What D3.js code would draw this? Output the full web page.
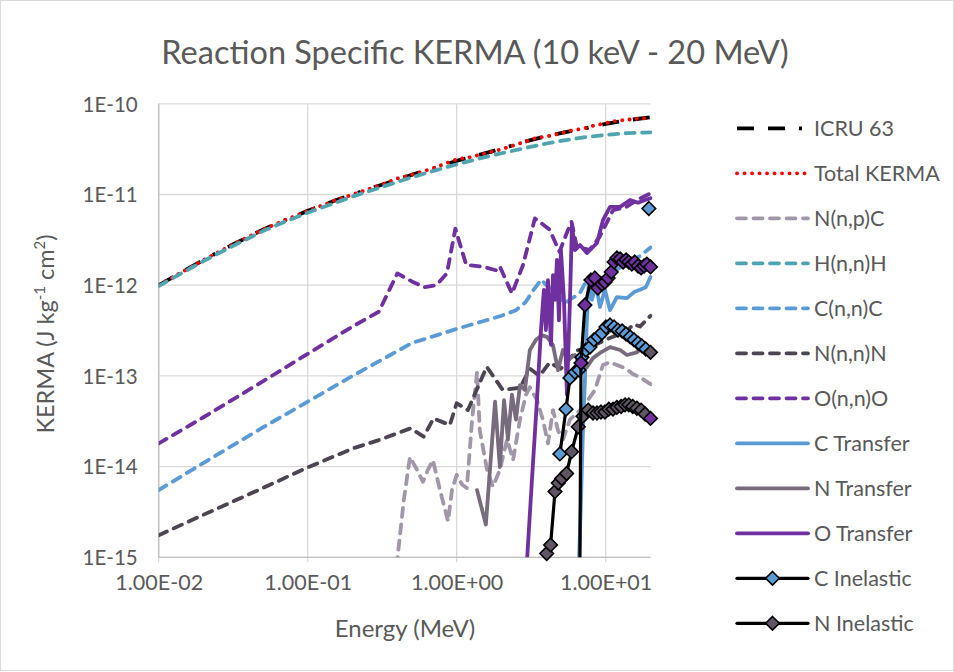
<!DOCTYPE html>
<html><head><meta charset="utf-8">
<script src="https://cdn.jsdelivr.net/npm/d3@7"></script>
<style>
body{margin:0;background:#fff}
text{font-family:Lato,'Open Sans',sans-serif;fill:#595959}
</style>
</head><body>
<svg id="chart" width="954" height="672"></svg>
<script>
// ---------- tick labels ----------
const xTickValues=[0.01,0.1,1,10];
const xTickLabels=["1.00E-02","1.00E-01","1.00E+00","1.00E+01"];
const yTickValues=[1e-15,1e-14,1e-13,1e-12,1e-11,1e-10];
const yTickLabels=["1E-15","1E-14","1E-13","1E-12","1E-11","1E-10"];
const legendNames=["ICRU 63","Total KERMA","N(n,p)C","H(n,n)H","C(n,n)C","N(n,n)N","O(n,n)O","C Transfer","N Transfer","O Transfer","C Inelastic","N Inelastic"];

// ---------- data: [energy MeV, KERMA] ----------
const icru63=[[0.01,1.0e-12],[0.02,1.9e-12],[0.03,2.7e-12],[0.05,4.1e-12],[0.07,5.2e-12],[0.1,6.6e-12],[0.15,8.5e-12],[0.2,1.0e-11],[0.3,1.25e-11],[0.5,1.65e-11],[0.7,1.95e-11],[1,2.35e-11],[1.5,2.8e-11],[2,3.2e-11],[3,3.9e-11],[4,4.4e-11],[5,4.75e-11],[7,5.3e-11],[10,6.0e-11],[14,6.6e-11],[20,7.1e-11]];
const totalKerma=[[0.01,1.0e-12],[0.02,1.9e-12],[0.03,2.7e-12],[0.05,4.1e-12],[0.07,5.2e-12],[0.1,6.6e-12],[0.15,8.5e-12],[0.2,1.0e-11],[0.3,1.25e-11],[0.4,1.5e-11],[0.5,1.65e-11],[0.7,1.95e-11],[1,2.45e-11],[1.2,2.55e-11],[1.5,2.8e-11],[2,3.15e-11],[3,3.9e-11],[3.4,4.2e-11],[4,4.35e-11],[5,4.75e-11],[6,5.1e-11],[7,5.3e-11],[8.5,5.8e-11],[10,6.1e-11],[11,6.4e-11],[12.5,6.5e-11],[14,6.8e-11],[15,6.6e-11],[17,7.0e-11],[18.5,6.9e-11],[20,7.3e-11]];
const nnpc=[[0.395,8e-16],[0.442,4.3e-15],[0.486,1.28e-14],[0.542,9.2e-15],[0.594,6.8e-15],[0.641,9.2e-15],[0.693,1.18e-14],[0.773,5.5e-15],[0.875,2.5e-15],[0.93,5.5e-15],[1.0,8.1e-15],[1.09,6.3e-15],[1.17,5.8e-15],[1.27,3.3e-14],[1.37,1.1e-13],[1.43,2.5e-14],[1.60,9.2e-15],[1.75,6.0e-15],[1.95,9.2e-15],[2.18,2.0e-14],[2.39,1.18e-14],[2.66,3.3e-14],[2.92,6.2e-14],[3.10,7.5e-14],[3.46,5.4e-14],[3.79,3.3e-14],[4.10,1.8e-14],[4.43,4.2e-14],[4.79,2.5e-14],[5.17,2.0e-14],[5.76,3.3e-14],[6.73,4.2e-14],[7.60,5.4e-14],[8.47,7.0e-14],[9.59,1.32e-13],[10.7,1.42e-13],[11.9,1.32e-13],[13.5,1.22e-13],[15.2,1.05e-13],[17.3,9.5e-14],[20,8.1e-14]];
const hnnh=[[0.01,0.98e-12],[0.02,1.85e-12],[0.03,2.6e-12],[0.05,3.95e-12],[0.07,5.0e-12],[0.1,6.3e-12],[0.15,8.0e-12],[0.2,9.5e-12],[0.3,1.18e-11],[0.5,1.55e-11],[0.7,1.82e-11],[1,2.15e-11],[1.5,2.55e-11],[2,2.85e-11],[3,3.3e-11],[4,3.65e-11],[5,3.9e-11],[7,4.25e-11],[10,4.55e-11],[14,4.75e-11],[20,4.85e-11]];
const cnnc=[[0.01,5.5e-15],[0.02,1.1e-14],[0.05,2.7e-14],[0.1,5.2e-14],[0.2,1.0e-13],[0.5,2.3e-13],[1,3.3e-13],[1.5,4.0e-13],[2,4.6e-13],[2.5,5.3e-13],[2.9,6.5e-13],[3.3,9e-13],[3.7,1.15e-12],[4.0,1.0e-12],[4.4,8.9e-13],[4.9,7.5e-13],[5.3,6.3e-13],[5.8,7e-13],[6.7,8.1e-13],[7.6,1.2e-12],[8.5,1.1e-12],[10,1.25e-12],[12,1.5e-12],[14,1.75e-12],[17,2.1e-12],[20,2.6e-12]];
const nnnn=[[0.01,1.75e-15],[0.02,2.95e-15],[0.05,5.8e-15],[0.1,9.8e-15],[0.2,1.58e-14],[0.3,1.96e-14],[0.49,2.64e-14],[0.6,2.14e-14],[0.7,3.4e-14],[0.9,2.87e-14],[1.0,5.0e-14],[1.19,4.2e-14],[1.59,1.26e-13],[2.04,7.0e-14],[2.66,7.4e-14],[3.1,1.2e-13],[3.6,1.0e-13],[4.2,1.4e-13],[5.0,1.2e-13],[6.4,1.9e-13],[8,2.1e-13],[10,2.5e-13],[13.7,3.1e-13],[15.4,3.7e-13],[17,3.5e-13],[20,4.6e-13]];
const onno=[[0.01,1.8e-14],[0.02,3.5e-14],[0.05,8.7e-14],[0.1,1.75e-13],[0.2,3.5e-13],[0.3,5.1e-13],[0.4,1.35e-12],[0.5,1.1e-12],[0.61,9.5e-13],[0.73,1.0e-12],[0.86,1.35e-12],[0.98,4.2e-12],[1.16,1.67e-12],[1.5,1.6e-12],[1.86,1.45e-12],[1.95,1.6e-12],[2.35,8.1e-13],[2.79,1.67e-12],[3.35,5.45e-12],[4.2,4.1e-12],[4.9,2.34e-12],[5.6,4.1e-12],[5.9,5.0e-12],[6.4,2.65e-12],[7.8,2.45e-12],[9.1,3.4e-12],[11.2,6.7e-12],[13.8,7.3e-12],[16.2,8.7e-12],[20,1.03e-11]];
const cTransfer=[[6.55,5e-16],[6.83,4.3e-15],[7.04,2.5e-14],[7.26,9.0e-14],[7.48,4.1e-13],[7.72,1.14e-12],[8.09,6.9e-13],[8.61,1.0e-12],[9.16,5.75e-13],[9.89,8.9e-13],[10.7,5.3e-13],[11.9,7.4e-13],[13.9,7.2e-13],[15.5,8.4e-13],[17.0,8.9e-13],[18.6,9.5e-13],[20,1.23e-12]];
const nTransfer=[[1.37,5.5e-15],[1.57,2.3e-15],[1.81,5.2e-14],[1.95,9.9e-15],[2.08,5.4e-14],[2.21,2.0e-14],[2.35,6.2e-14],[2.50,3.3e-14],[2.66,7.9e-14],[2.87,7.0e-14],[3.10,1.93e-13],[3.41,2.5e-13],[3.73,2.8e-13],[4.04,2.69e-13],[4.43,2.19e-13],[4.79,1.16e-13],[5.17,1.93e-13],[5.58,1.5e-13],[6.22,1.7e-13],[6.93,1.22e-13],[7.48,1.25e-13],[8.22,1.57e-13],[9.16,1.79e-13],[10.7,2.08e-13],[12.5,1.93e-13],[13.9,1.7e-13],[16.2,1.82e-13],[18.1,2.13e-13],[20,1.93e-13]];
const oTransfer=[[2.9,5e-16],[3.20,7.1e-15],[3.46,5.4e-14],[3.68,3.2e-13],[3.85,8.9e-13],[3.97,3.2e-13],[4.10,1.14e-12],[4.30,2.2e-13],[4.43,1.29e-12],[4.57,6.9e-13],[4.71,1.9e-12],[4.86,4.1e-13],[5.01,2.44e-12],[5.25,6.9e-13],[5.50,6.2e-14],[5.76,6.9e-13],[5.94,4.6e-12],[6.22,2.44e-12],[6.73,2.77e-12],[7.48,2.26e-12],[8.75,2.92e-12],[9.59,5.2e-12],[10.7,7.3e-12],[12.5,7.3e-12],[14.6,8.7e-12],[16.5,8.1e-12],[18.4,8.7e-12],[20,9.1e-12]];
const cInelastic=[[4.93,1.38e-14],[5.42,4.3e-14],[5.76,9.5e-14],[6.22,1.1e-13],[6.62,1.16e-13],[6.93,1.61e-13],[7.37,1.93e-13],[7.85,2.08e-13],[8.34,2.5e-13],[8.87,2.69e-13],[9.44,2.97e-13],[10.05,3.46e-13],[10.7,3.64e-13],[11.4,3.46e-13],[12.1,3.2e-13],[12.9,3.13e-13],[13.7,2.9e-13],[14.6,2.69e-13],[15.5,2.5e-13],[16.5,2.3e-13],[17.5,2.14e-13],[18.6,1.98e-13],[20,1.82e-13]];
const nInelastic=[[4.02,1.1e-15],[4.27,1.37e-15],[4.57,5.3e-15],[4.81,6.6e-15],[5.07,7.4e-15],[5.47,8.4e-15],[5.91,1.46e-14],[6.55,2.75e-14],[7.04,3.6e-14],[7.64,4.2e-14],[8.22,3.9e-14],[8.75,3.9e-14],[9.30,4.0e-14],[9.89,4.0e-14],[10.5,4.3e-14],[11.2,4.3e-14],[11.9,4.5e-14],[12.7,4.6e-14],[13.5,4.8e-14],[14.3,4.8e-14],[15.2,4.6e-14],[16.2,4.4e-14],[17.3,4.2e-14],[18.4,3.8e-14],[20,3.4e-14]];
const oInelastic=[[6.67,1e-16],[6.83,1.39e-13],[7.26,6.05e-13],[7.97,1.14e-12],[8.47,1.2e-12],[8.87,9.3e-13],[9.44,1.03e-12],[9.89,1.08e-12],[10.4,1.2e-12],[10.9,1.4e-12],[11.4,1.8e-12],[11.9,2.0e-12],[12.5,1.95e-12],[13.1,1.8e-12],[13.7,1.9e-12],[14.3,1.8e-12],[15.0,1.71e-12],[15.7,1.8e-12],[16.5,1.63e-12],[17.3,1.55e-12],[18.1,1.63e-12],[18.9,1.71e-12],[20,1.59e-12]];
const extraPoint=[[19.5,7.0e-12]];

// ---------- layout ----------
const svg=d3.select("#chart");
const P={left:158.7,right:650.5,top:103.8,bottom:557.3};
const x=d3.scaleLog().domain([0.01,20]).range([P.left,P.right]);
const y=d3.scaleLog().domain([1e-15,1e-10]).range([P.bottom,P.top]);

const BLUE="#5b9bd5",PURPLE="#7030a0",DARK="#4d4552",MID="#776b7d",LIGHT="#a197a8",TEAL="#4ea5b0",NMARK="#5f5565";
const DASH="9,7.5";
const series=[
 {name:legendNames[0],data:icru63,color:"#000",w:3.8,dash:"17,14,17,14,3,14",cap:"butt"},
 {name:legendNames[1],data:totalKerma,color:"#ff0000",w:3.8,dash:"0.1,7.4",cap:"round"},
 {name:legendNames[2],data:nnpc,color:LIGHT,w:3.8,dash:DASH,cap:"round"},
 {name:legendNames[3],data:hnnh,color:TEAL,w:3.8,dash:DASH,cap:"round"},
 {name:legendNames[4],data:cnnc,color:BLUE,w:3.8,dash:DASH,cap:"round"},
 {name:legendNames[5],data:nnnn,color:DARK,w:3.8,dash:DASH,cap:"round"},
 {name:legendNames[6],data:onno,color:PURPLE,w:3.8,dash:DASH,cap:"round"},
 {name:legendNames[7],data:cTransfer,color:BLUE,w:3.8,dash:null,cap:"round"},
 {name:legendNames[8],data:nTransfer,color:MID,w:3.8,dash:null,cap:"round"},
 {name:legendNames[9],data:oTransfer,color:PURPLE,w:3.8,dash:null,cap:"round"},
 {name:legendNames[10],data:cInelastic,color:"#000",w:3.2,dash:null,cap:"round",marker:BLUE,last:NMARK},
 {name:legendNames[11],data:nInelastic,color:"#000",w:3.2,dash:null,cap:"round",marker:NMARK,last:PURPLE},
 {name:"O Inelastic",data:oInelastic,color:"#000",w:3.2,dash:null,cap:"round",marker:PURPLE,last:PURPLE,noLegend:true},
 {name:"extra",data:extraPoint,color:"none",w:0,dash:null,cap:"round",marker:BLUE,last:BLUE,noLegend:true,noLine:true}
];

// border
svg.append("rect").attr("x",0.5).attr("y",0.5).attr("width",953).attr("height",670)
  .attr("fill","#fff").attr("stroke","#d9d9d9");

// grid
const g=svg.append("g");
g.selectAll(".hg").data(yTickValues).join("line")
  .attr("x1",P.left).attr("x2",P.right).attr("y1",d=>y(d)).attr("y2",d=>y(d))
  .attr("stroke","#d9d9d9").attr("stroke-width",1.3);
g.selectAll(".vg").data(xTickValues).join("line")
  .attr("x1",d=>x(d)).attr("x2",d=>x(d)).attr("y1",P.top).attr("y2",P.bottom+5)
  .attr("stroke","#d9d9d9").attr("stroke-width",1.3);
g.append("line").attr("x1",P.left).attr("x2",P.left).attr("y1",P.top).attr("y2",P.bottom)
  .attr("stroke","#bfbfbf").attr("stroke-width",1.3);
g.append("line").attr("x1",P.left).attr("x2",P.right).attr("y1",P.bottom).attr("y2",P.bottom)
  .attr("stroke","#bfbfbf").attr("stroke-width",1.3);

// axes labels via d3 axes (no domain / tick lines)
const xAxis=d3.axisBottom(x).tickValues(xTickValues).tickFormat((d,i)=>xTickLabels[i]).tickSize(0).tickPadding(0);
const ax=svg.append("g").attr("transform",`translate(0,${P.bottom+33})`).call(xAxis);
ax.select(".domain").remove();
ax.selectAll("text").attr("dy",0).attr("font-size",21.5).style("font-family","Lato").attr("fill","#595959");
const yAxis=d3.axisLeft(y).tickValues(yTickValues).tickFormat((d,i)=>yTickLabels[i]).tickSize(0).tickPadding(0);
const ay=svg.append("g").attr("transform",`translate(${P.left-21},0)`).call(yAxis);
ay.select(".domain").remove();
ay.selectAll("text").attr("dy","0.36em").attr("font-size",20.5).style("font-family","Lato").attr("fill","#595959");

// clip
svg.append("clipPath").attr("id","plotclip").append("rect")
  .attr("x",P.left).attr("y",P.top-10).attr("width",P.right-P.left+2).attr("height",P.bottom-P.top+10);

const line=d3.line().x(d=>x(d[0])).y(d=>y(d[1]));
const diamond="M0,-6.8L6.8,0L0,6.8L-6.8,0Z";
const plotG=svg.append("g");
series.forEach(s=>{
  if(!s.noLine){
    plotG.append("path").datum(s.data).attr("d",line).attr("fill","none")
      .attr("stroke",s.color).attr("stroke-width",s.w)
      .attr("stroke-dasharray",s.dash).attr("stroke-linecap",s.cap).attr("stroke-linejoin","round")
      .attr("clip-path","url(#plotclip)");
  }
  if(s.marker){
    const pts=s.data.filter(d=>d[1]>=1e-15);
    plotG.selectAll(null).data(pts).join("path")
      .attr("d",diamond).attr("transform",d=>`translate(${x(d[0])},${y(d[1])})`)
      .attr("fill",(d,i)=>i===pts.length-1?s.last:s.marker)
      .attr("stroke","#000").attr("stroke-width",1.6);
  }
});

// legend
const lg=svg.append("g");
series.filter(s=>!s.noLegend).forEach((s,i)=>{
  const cy=128.3+i*45;
  lg.append("line").attr("x1",737).attr("x2",808).attr("y1",cy).attr("y2",cy)
    .attr("stroke",s.color).attr("stroke-width",s.w)
    .attr("stroke-dasharray",s.dash).attr("stroke-linecap",s.dash?s.cap:"round");
  if(s.marker){
    lg.append("path").attr("d",diamond).attr("transform",`translate(772.5,${cy})`)
      .attr("fill",s.marker).attr("stroke","#000").attr("stroke-width",1.6);
  }
  lg.append("text").attr("x",814).attr("y",cy).attr("dy","0.36em")
    .attr("font-size",21.5).text(s.name);
});

// title
svg.append("text").attr("x",475).attr("y",64).attr("text-anchor","middle")
  .attr("font-size",32.5).text("Reaction Specific KERMA (10 keV - 20 MeV)");
// axis titles
svg.append("text").attr("x",405).attr("y",637).attr("text-anchor","middle")
  .attr("font-size",24).text("Energy (MeV)");
const yt=svg.append("text").attr("transform","translate(54,334) rotate(-90)").attr("text-anchor","middle")
  .attr("font-size",23.5);
yt.append("tspan").text("KERMA (J kg");
yt.append("tspan").attr("font-size",15).attr("dy",-9).text("-1");
yt.append("tspan").attr("dy",9).text(" cm");
yt.append("tspan").attr("font-size",15).attr("dy",-9).text("2");
yt.append("tspan").attr("dy",9).text(")");
</script>
</body></html>
